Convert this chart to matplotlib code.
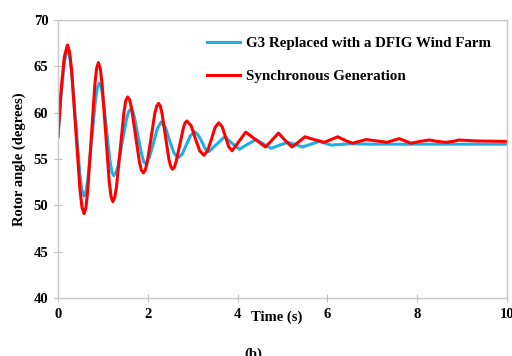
import matplotlib
matplotlib.use("Agg")
import matplotlib.pyplot as plt

# rotor angle traces (time in s, angle in degrees)
t_sync = [0, 0.07, 0.14, 0.21, 0.256, 0.3025, 0.395, 0.4875, 0.534, 0.58, 0.62, 0.66,
          0.74, 0.82, 0.86, 0.90, 0.94, 0.98, 1.06, 1.14, 1.18, 1.22, 1.261, 1.3025,
          1.385, 1.4675, 1.509, 1.55, 1.594, 1.6375, 1.725, 1.8125, 1.856, 1.90,
          1.9425, 1.985, 2.07, 2.155, 2.1975, 2.24, 2.279, 2.3175, 2.395, 2.4725,
          2.511, 2.55, 2.59, 2.63, 2.71, 2.79, 2.83, 2.87, 2.965, 3.06, 3.155, 3.25,
          3.3325, 3.415, 3.4975, 3.58, 3.655, 3.73, 3.805, 3.88, 4.03, 4.18, 4.40,
          4.62, 4.76, 4.91, 5.06, 5.21, 5.35, 5.50, 5.70, 5.93, 6.08, 6.23, 6.40,
          6.56, 6.71, 6.86, 7.10, 7.33, 7.46, 7.60, 7.73, 7.86, 8.06, 8.27, 8.45,
          8.64, 8.80, 8.93, 9.30, 10.0]
v_sync = [57.4, 62.5, 66.0, 67.3, 66.6, 64.6, 58.2, 51.8, 49.8, 49.1, 49.7, 51.5,
          57.2, 63.0, 64.8, 65.4, 64.8, 63.2, 57.9, 52.6, 51.0, 50.4, 50.8, 52.0,
          56.0, 60.0, 61.3, 61.7, 61.4, 60.5, 57.6, 54.7, 53.8, 53.5,
          53.8, 54.6, 57.2, 59.9, 60.7, 61.0, 60.7, 59.9, 57.4, 54.9,
          54.2, 53.9, 54.1, 54.7, 56.5, 58.3, 58.9, 59.1, 58.6, 57.2, 55.9, 55.4,
          55.9, 57.1, 58.4, 58.9, 58.5, 57.4, 56.3, 55.9, 56.9, 57.9, 57.1,
          56.3, 57.0, 57.8, 57.0, 56.3, 56.8, 57.4, 57.1, 56.8, 57.1, 57.4, 57.0,
          56.7, 56.9, 57.1, 56.95, 56.8, 57.0, 57.2, 56.95, 56.7, 56.9, 57.05, 56.9,
          56.8, 56.9, 57.05, 56.95, 56.9]

t_dfig = [0, 0.07, 0.14, 0.21, 0.256, 0.3025, 0.395, 0.4875, 0.534, 0.58, 0.6225,
          0.665, 0.75, 0.835, 0.8775, 0.92, 0.96, 1.0, 1.08, 1.16, 1.2, 1.24, 1.2875,
          1.335, 1.43, 1.525, 1.5725, 1.62, 1.661, 1.7025, 1.785, 1.8675, 1.909,
          1.95, 2.0375, 2.125, 2.2125, 2.30, 2.3925, 2.485, 2.5775, 2.67, 2.7625,
          2.855, 2.9475, 3.04, 3.12, 3.20, 3.28, 3.36, 3.535, 3.71, 3.875, 4.04,
          4.225, 4.41, 4.58, 4.75, 4.935, 5.12, 5.285, 5.45, 5.635, 5.82, 5.95,
          6.08, 6.50, 7.0, 10.0]
v_dfig = [57.4, 62.0, 65.5, 66.8, 66.2, 64.5, 58.9, 53.3, 51.6, 51.0, 51.5,
          52.8, 57.1, 61.4, 62.7, 63.2, 62.8, 61.7, 58.2, 54.7, 53.6, 53.2, 53.5,
          54.2, 56.8, 59.3, 60.1, 60.4, 60.2, 59.5, 57.4, 55.4, 54.7,
          54.5, 55.2, 56.7, 58.3, 59.0, 58.4, 57.0, 55.7, 55.1, 55.5,
          56.5, 57.5, 57.95, 57.6, 56.9, 56.1, 55.8, 56.6, 57.4, 56.7, 56.05,
          56.6, 57.1, 56.6, 56.15, 56.5, 56.8, 56.55, 56.3, 56.6, 56.9, 56.7,
          56.5, 56.65, 56.6, 56.6]

labels = ["G3 Replaced with a DFIG Wind Farm", "Synchronous Generation"]
x_ticks = [0, 2, 4, 6, 8, 10]
y_ticks = [40, 45, 50, 55, 60, 65, 70]

plt.rcParams["font.family"] = ["Liberation Serif", "DejaVu Serif"]
plt.rcParams["font.weight"] = "bold"

fig = plt.figure(figsize=(5.12, 3.56), dpi=100)
ax = fig.add_axes([0.1133, 0.1629, 0.8770, 0.7809])

ax.plot(t_dfig, v_dfig, color="#1cb0e6", lw=2.2, label=labels[0],
        solid_joinstyle="round")
ax.plot(t_sync, v_sync, color="#ff0000", lw=2.2, label=labels[1],
        solid_joinstyle="round")

ax.set_xlim(0, 10)
ax.set_ylim(40, 70)
ax.set_xticks(x_ticks)
ax.set_yticks(y_ticks)
ax.tick_params(direction="inout", length=6, width=0.8, color="#bfbfbf",
               labelsize=10.5, pad=4)
for s in ax.spines.values():
    s.set_color("#c8c8c8")
    s.set_linewidth(1.0)

ax.set_ylabel("Rotor angle (degrees)", fontsize=10.5, fontweight="bold")
ax.yaxis.set_label_coords(-0.072, 0.5)
ax.set_xlabel("Time (s)", fontsize=10.5, fontweight="bold")
ax.xaxis.set_label_coords(0.488, -0.045)

leg = ax.legend(loc="upper right", frameon=False, fontsize=10.8,
                handlelength=2.2, handletextpad=0.4, labelspacing=1.3,
                bbox_to_anchor=(0.995, 0.99))
for txt in leg.get_texts():
    txt.set_fontweight("bold")

# panel tag, partly cut by the bottom edge as in the source
fig.text(0.495, 0.025, "(b)", fontsize=10.5, ha="center", va="top")

fig.savefig("out.png", dpi=100)
